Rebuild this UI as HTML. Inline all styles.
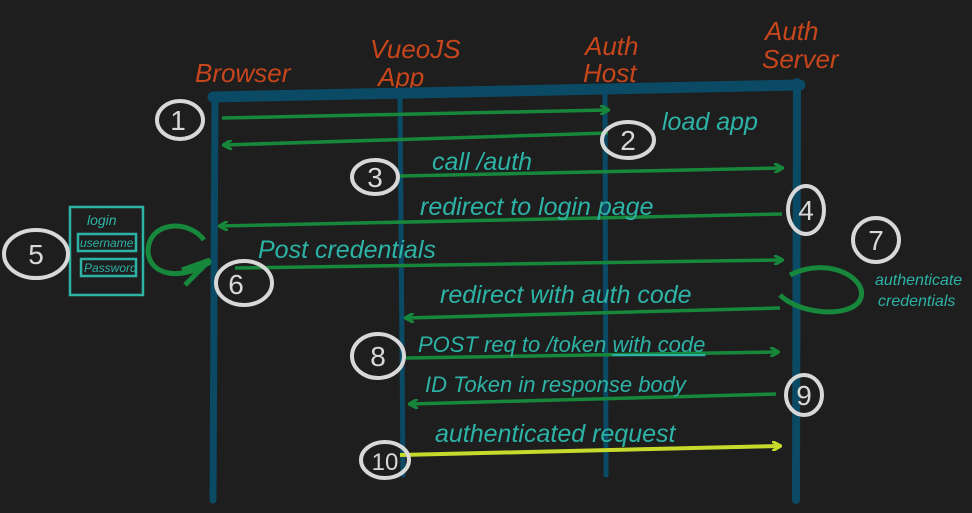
<!DOCTYPE html>
<html><head><style>
html,body{margin:0;padding:0;background:#1e1e1e;}
svg{display:block}
text{font-family:"Liberation Sans",sans-serif;}
</style></head><body>
<svg width="972" height="513" viewBox="0 0 972 513" xmlns="http://www.w3.org/2000/svg">
<rect width="972" height="513" fill="#1e1e1e"/>
<defs>
<marker id="ag" markerWidth="10" markerHeight="10" refX="8" refY="5" orient="auto" markerUnits="userSpaceOnUse"><path d="M0,0 L9,5 L0,10" fill="none" stroke="#17873b" stroke-width="3"/></marker>
<marker id="ay" markerWidth="10" markerHeight="10" refX="8" refY="5" orient="auto" markerUnits="userSpaceOnUse"><path d="M0,0 L9,5 L0,10" fill="none" stroke="#c6da2c" stroke-width="3"/></marker>
</defs>
<!-- header labels -->
<g fill="#c8461c" font-size="26" font-style="italic">
<text x="195" y="82">Browser</text>
<text x="370" y="58">VueoJS</text>
<text x="378" y="86">App</text>
<text x="585" y="55">Auth</text>
<text x="583" y="82">Host</text>
<text x="765" y="40">Auth</text>
<text x="762" y="68">Server</text>
</g>
<!-- lifelines -->
<g stroke="#0b4a64" stroke-linecap="round">
<path d="M213,97 L800,85" stroke-width="11"/>
<path d="M215,95 L213,500" stroke-width="7"/>
<path d="M400,97 L403,475" stroke-width="5"/>
<path d="M605,92 L606,475" stroke-width="5"/>
<path d="M797,82 L796,500" stroke-width="8"/>
</g>
<!-- arrows -->
<g stroke="#17873b" stroke-width="3.5" fill="none">
<path d="M222,118 L608,110" marker-end="url(#ag)"/>
<path d="M608,133 L224,145" marker-end="url(#ag)"/>
<path d="M400,176 L782,168" marker-end="url(#ag)"/>
<path d="M782,214 L220,226" marker-end="url(#ag)"/>
<path d="M235,268 L782,260" marker-end="url(#ag)"/>
<path d="M780,308 L406,318" marker-end="url(#ag)"/>
<path d="M406,358 L778,352" marker-end="url(#ag)"/>
<path d="M776,394 L410,404" marker-end="url(#ag)"/>
<path d="M204,240 C190,220 150,220 148,250 C148,275 180,282 210,262" stroke-width="5"/>
<path d="M182,270 L210,260 L185,285" stroke-width="5"/>
<path d="M790,275 C830,255 870,280 860,300 C850,318 800,315 780,295" stroke-width="5"/>
</g>
<path d="M400,455 L780,446" stroke="#c6da2c" stroke-width="4" marker-end="url(#ay)"/>
<!-- labels -->
<g fill="#2db3a6" font-size="25" font-style="italic">
<text x="662" y="130">load app</text>
<text x="432" y="170">call /auth</text>
<text x="420" y="215">redirect to login page</text>
<text x="258" y="258">Post credentials</text>
<text x="440" y="303">redirect with auth code</text>
<text x="418" y="352" font-size="22">POST req to /token <tspan text-decoration="underline">with code</tspan></text>
<text x="425" y="392" font-size="22">ID Token in response body</text>
<text x="435" y="442">authenticated request</text>
<text x="875" y="285" font-size="16">authenticate</text>
<text x="878" y="306" font-size="16">credentials</text>
</g>
<!-- login box -->
<g stroke="#2db3a6" stroke-width="2.5" fill="none">
<rect x="70" y="207" width="73" height="88"/>
<rect x="78" y="234" width="58" height="17"/>
<rect x="81" y="259" width="55" height="17"/>
</g>
<g fill="#2db3a6" font-style="italic">
<text x="87" y="225" font-size="14">login</text>
<text x="80" y="247" font-size="12">username</text>
<text x="84" y="272" font-size="12">Password</text>
</g>
<!-- numbered circles -->
<g stroke="#d8d8d8" stroke-width="4" fill="none">
<ellipse cx="180" cy="120" rx="23" ry="19"/>
<ellipse cx="628" cy="140" rx="26" ry="18"/>
<ellipse cx="375" cy="177" rx="23" ry="17"/>
<ellipse cx="806" cy="210" rx="18" ry="24"/>
<ellipse cx="36" cy="254" rx="32" ry="24"/>
<ellipse cx="244" cy="283" rx="28" ry="22"/>
<ellipse cx="876" cy="240" rx="23" ry="22"/>
<ellipse cx="378" cy="356" rx="26" ry="22"/>
<ellipse cx="804" cy="395" rx="18" ry="20"/>
<ellipse cx="385" cy="460" rx="24" ry="18"/>
</g>
<g fill="#d8d8d8" font-size="28" text-anchor="middle">
<text x="178" y="130">1</text>
<text x="628" y="150">2</text>
<text x="375" y="187">3</text>
<text x="806" y="220">4</text>
<text x="36" y="264">5</text>
<text x="236" y="294">6</text>
<text x="876" y="250">7</text>
<text x="378" y="366">8</text>
<text x="804" y="405">9</text>
<text x="385" y="470" font-size="24">10</text>
</g>
</svg>
</body></html>
